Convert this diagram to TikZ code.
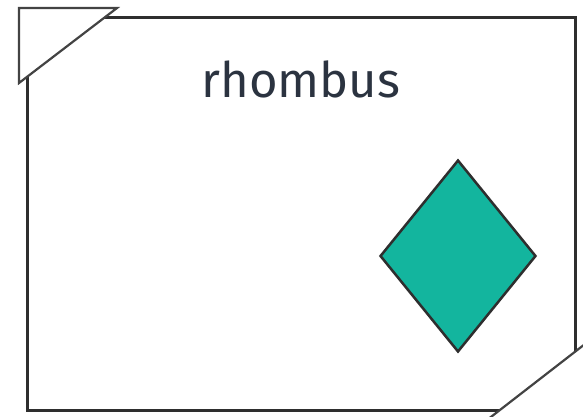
\documentclass[tikz,border=0pt]{standalone}
\usepackage{fontspec}
\setmainfont{Fira Sans}
\usetikzlibrary{shapes.geometric}
\definecolor{frame}{HTML}{2E2E2E}
\definecolor{tealfill}{HTML}{13B59E}
\definecolor{textcol}{HTML}{2B3340}
\tikzset{
  framebox/.style={draw=frame, line width=3pt, minimum width=548pt, minimum height=393pt, inner sep=0pt},
  cornertri/.style={draw=frame!90, line width=2.2pt, fill=white, line join=miter},
  rhombshape/.style={diamond, draw=frame, line width=2.5pt, fill=tealfill, minimum width=156pt, minimum height=192pt, inner sep=0pt},
  title/.style={text=textcol, font=\fontsize{49}{52}\selectfont, inner sep=0pt}
}
\begin{document}
\begin{tikzpicture}[x=1pt,y=-1pt]
\useasboundingbox (0,0) rectangle (583,416);
\fill[white] (0,0) rectangle (583,416);
\node[framebox] (frame) at (301.5,213.5) {};
\node[title, anchor=base] (lbl) at (301,97) {rhombus};
\node[rhombshape] (rh) at (458,256) {};
\coordinate (tlA) at (19,8);
\coordinate (tlB) at (117,8);
\coordinate (tlC) at (19,83);
\draw[cornertri] (tlA) -- (tlB) -- (tlC) -- cycle;
\coordinate (brA) at (585,420);
\coordinate (brB) at (585,344);
\coordinate (brC) at (487,420);
\draw[cornertri] (brA) -- (brB) -- (brC) -- cycle;
\end{tikzpicture}
\end{document}
